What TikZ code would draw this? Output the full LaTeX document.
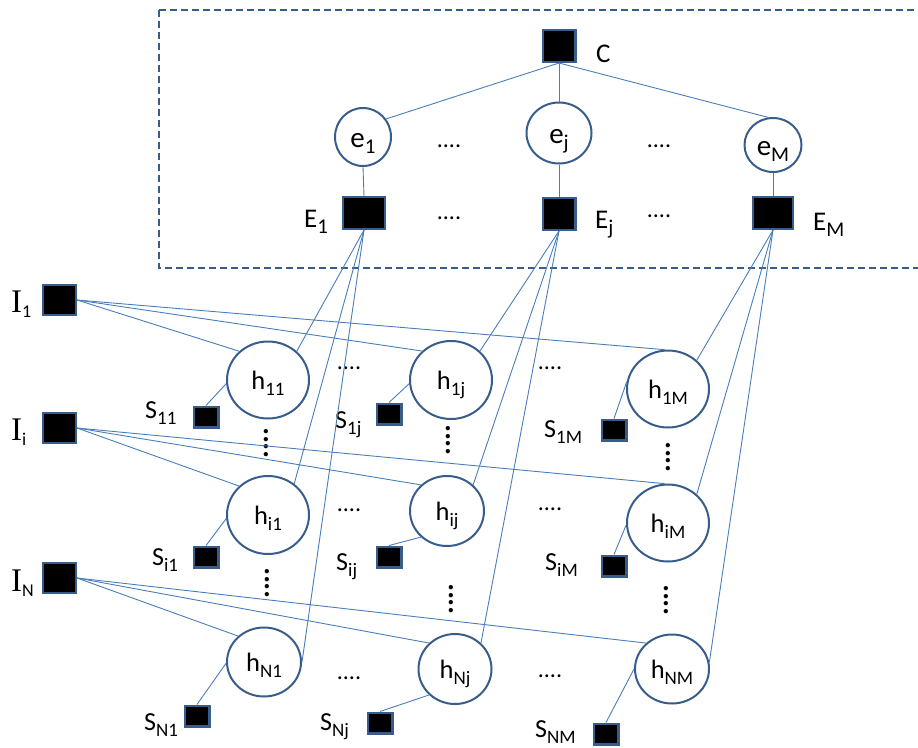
\documentclass[tikz,border=0pt]{standalone}
\usepackage{fontspec}
\setmainfont{Carlito}
\newfontfamily\serifI{Liberation Serif}
\usetikzlibrary{shapes.geometric}
\definecolor{conn}{HTML}{4A7EBB}
\definecolor{bord}{HTML}{385D8A}
\newcommand\tsub[1]{\raisebox{-6pt}{\fontsize{21}{21}\selectfont #1}}
\newcommand\bsub[1]{\raisebox{-6pt}{\fontsize{19}{19}\selectfont #1}}
\newcommand\ilab[1]{{\serifI\fontsize{33}{33}\selectfont I}\raisebox{-5pt}{\fontsize{18}{18}\selectfont #1}}
\begin{document}
\begin{tikzpicture}[x=1pt,y=-1pt,
 sq/.style={rectangle, draw=bord, fill=black, line width=2.4pt, inner sep=0pt},
 bigsq/.style={sq, minimum width=32.6pt, minimum height=31.6pt},
 isq/.style={sq, minimum width=32.6pt, minimum height=29.6pt},
 ssq/.style={sq, minimum width=24.6pt, minimum height=20.6pt},
 circ/.style={ellipse, draw=bord, fill=white, line width=2pt, inner sep=0pt,
   text height=24pt, text depth=6pt, font=\fontsize{26.5}{30}\selectfont},
 ecirc/.style={circ, text height=26pt, text depth=6pt, font=\fontsize{29}{32}\selectfont},
 wire/.style={draw=conn, line width=0.9pt},
 lab/.style={anchor=base west, inner sep=0pt, font=\fontsize{26}{30}\selectfont},
 tlab/.style={anchor=base west, inner sep=0pt, font=\fontsize{27}{30}\selectfont},
 hdots/.style={anchor=base, inner sep=0pt, font=\fontsize{24}{24}\selectfont},
 vdots/.style={inner sep=0pt, rotate=90, font=\bfseries\fontsize{29}{29}\selectfont},
 dashbox/.style={draw=bord, line width=2pt, dash pattern=on 7pt off 4pt}]
\useasboundingbox (0,0) rectangle (918,747);

% dashed frame
\draw[dashbox] (159,10) -- (930,10) (159,10) -- (159,268) -- (930,268);

% top part
\node[bigsq] (C) at (559,46) {};
\node[tlab] (Clab) at (596,62) {C};
\node[ecirc, minimum width=56pt, minimum height=58pt] (e1) at (363,137) {e\tsub{1}};
\node[ecirc, minimum width=65pt, minimum height=61pt] (ej) at (559,133) {e\tsub{j}};
\node[ecirc, minimum width=57pt, minimum height=54pt] (eM) at (773,145) {e\tsub{M}};
\node[sq, minimum width=41.6pt, minimum height=31.6pt] (E1) at (364,213) {};
\node[bigsq] (Ej) at (559,214) {};
\node[sq, minimum width=39.6pt, minimum height=31.6pt] (EM) at (773,213) {};
\node[tlab] (E1lab) at (304,227) {E\tsub{1}};
\node[tlab] (Ejlab) at (595,228) {E\tsub{j}};
\node[tlab] (EMlab) at (813,230) {E\tsub{M}};
\node[hdots] (d1) at (449,147) {....};
\node[hdots] (d2) at (659,147) {....};
\node[hdots] (d3) at (449,219) {....};
\node[hdots] (d4) at (659,217) {....};

% I nodes
\node[isq] (I1) at (59.5,300) {};
\node[isq] (Ii) at (59.5,428) {};
\node[isq] (IN) at (59.5,578) {};
\node[anchor=base west, inner sep=0pt] (I1lab) at (11,312) {\ilab{1}};
\node[anchor=base west, inner sep=0pt] (Iilab) at (11,440) {\ilab{i}};
\node[anchor=base west, inner sep=0pt] (INlab) at (11,591) {\ilab{N}};

% h nodes
\node[circ, minimum width=82pt, minimum height=77pt] (h11) at (268,380) {h\bsub{11}};
\node[circ, minimum width=82pt, minimum height=78pt] (h1j) at (451,380) {h\bsub{1j}};
\node[circ, minimum width=82pt, minimum height=77pt] (h1M) at (668,389) {h\bsub{1M}};
\node[circ, minimum width=82pt, minimum height=78pt] (hi1) at (268,515) {h\bsub{i1}};
\node[circ, minimum width=74pt, minimum height=70pt] (hij) at (447,511) {h\bsub{ij}};
\node[circ, minimum width=82pt, minimum height=77pt] (hiM) at (668,523) {h\bsub{iM}};
\node[circ, minimum width=74pt, minimum height=69pt] (hN1) at (264,662) {h\bsub{N1}};
\node[circ, minimum width=73pt, minimum height=70pt] (hNj) at (455,669) {h\bsub{Nj}};
\node[circ, minimum width=74pt, minimum height=69pt] (hNM) at (672,669) {h\bsub{NM}};

% S nodes
\node[ssq] (S11) at (206,417) {};
\node[ssq] (S1j) at (389,414) {};
\node[ssq] (S1M) at (614,430) {};
\node[ssq] (Si1) at (206,557) {};
\node[ssq] (Sij) at (389,557) {};
\node[ssq] (SiM) at (614,566) {};
\node[ssq] (SN1) at (197,716) {};
\node[ssq] (SNj) at (380,723) {};
\node[ssq] (SNM) at (606,734) {};
\node[lab] (S11lab) at (145,418) {S\bsub{11}};
\node[lab] (S1jlab) at (335,428) {S\bsub{1j}};
\node[lab] (S1Mlab) at (544,437) {S\bsub{1M}};
\node[lab] (Si1lab) at (152,565) {S\bsub{i1}};
\node[lab] (Sijlab) at (336,570) {S\bsub{ij}};
\node[lab] (SiMlab) at (545,570) {S\bsub{iM}};
\node[lab] (SN1lab) at (144,730) {S\bsub{N1}};
\node[lab] (SNjlab) at (320,730) {S\bsub{Nj}};
\node[lab] (SNMlab) at (535,737) {S\bsub{NM}};

% dots in grid
\node[hdots] (g1) at (349,369) {....};
\node[hdots] (g2) at (550,369) {....};
\node[hdots] (g3) at (349,511) {....};
\node[hdots] (g4) at (550,510) {....};
\node[hdots] (g5) at (349,679) {....};
\node[hdots] (g6) at (550,677) {....};
\node[vdots] (v1) at (266,443) {....};
\node[vdots] (v2) at (448,440) {....};
\node[vdots] (v3) at (668,457) {....};
\node[vdots] (v4) at (267,583) {....};
\node[vdots] (v5) at (451,599) {....};
\node[vdots] (v6) at (666,600) {....};

% connectors top
\draw[wire] (C.south) -- (e1.38);
\draw[wire] (C.south) -- (ej.north);
\draw[wire] (C.south) -- (eM.100);
\draw[wire] (e1.south) -- (E1.north);
\draw[wire] (ej.south) -- (Ej.north);
\draw[wire] (eM.south) -- (EM.north);

% E to h
\draw[wire] (E1.south) -- (h11.45);
\draw[wire] (E1.south) -- (hi1.50);
\draw[wire] (E1.south) -- (hN1.east);
\draw[wire] (Ej.south) -- (h1j.45);
\draw[wire] (Ej.south) -- (hij.45);
\draw[wire] (Ej.south) -- (hNj.45);
\draw[wire] (EM.south) -- (h1M.45);
\draw[wire] (EM.south) -- (hiM.45);
\draw[wire] (EM.south) -- (hNM.10);

% I to h
\draw[wire] (I1.east) -- (h11.135);
\draw[wire] (I1.east) -- (h1j.135);
\draw[wire] (I1.east) -- (h1M.95);
\draw[wire] (Ii.east) -- (hi1.135);
\draw[wire] (Ii.east) -- (hij.135);
\draw[wire] (Ii.east) -- (hiM.95);
\draw[wire] (IN.east) -- (hN1.135);
\draw[wire] (IN.east) -- (hNj.135);
\draw[wire] (IN.east) -- (hNM.135);

% S to h
\draw[wire] (S11.north) -- (h11.185);
\draw[wire] (S1j.north) -- (h1j.185);
\draw[wire] (S1M.north) -- (h1M.170);
\draw[wire] (Si1.north) -- (hi1.185);
\draw[wire] (Sij.north) -- (hij.225);
\draw[wire] (SiM.north) -- (hiM.183);
\draw[wire] (SN1.north) -- (hN1.182);
\draw[wire] (SNj.north) -- (hNj.225);
\draw[wire] (SNM.north) -- (hNM.180);
\end{tikzpicture}
\end{document}
